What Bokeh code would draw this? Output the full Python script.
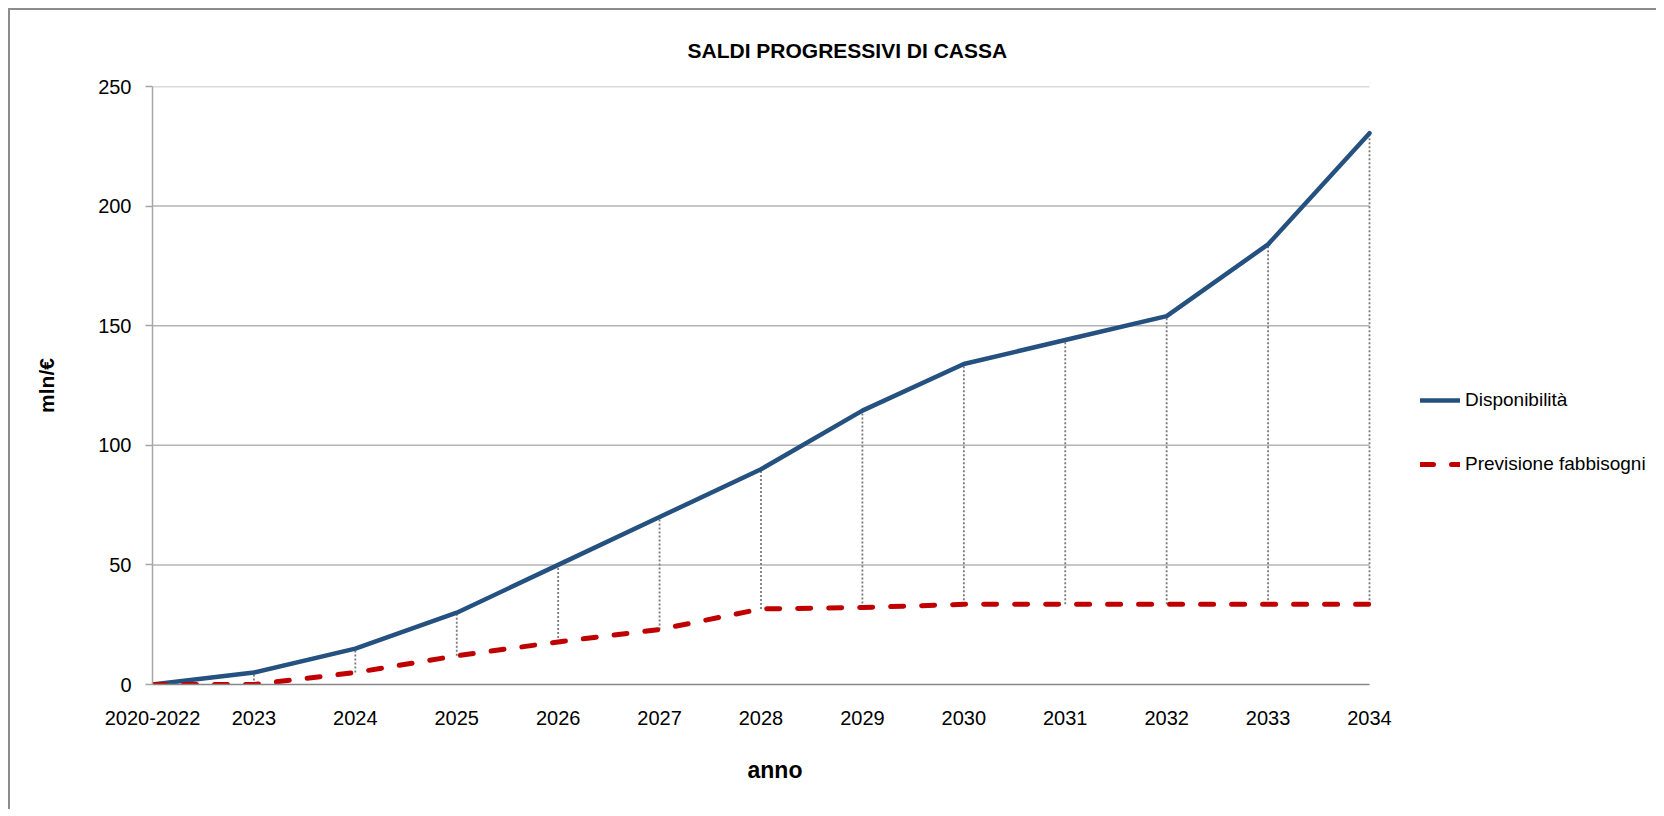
from bokeh.plotting import figure
from bokeh.models import Range1d, FixedTicker, Legend, LegendItem, Title
from bokeh.embed import file_html
from bokeh.resources import INLINE

# ---- data ----
categories = ["2020-2022", "2023", "2024", "2025", "2026", "2027", "2028",
              "2029", "2030", "2031", "2032", "2033", "2034"]
disponibilita = [0, 5, 15, 30, 50, 70, 90, 114.5, 134, 144, 154, 184, 230.5]
previsione_fabbisogni = [0, 0, 5, 12, 17.8, 23, 31.6, 32.2, 33.5, 33.6, 33.6, 33.6, 33.6]
y_ticks = [0, 50, 100, 150, 200, 250]

FONT = "Liberation Sans"
xs = list(range(len(categories)))
n_last = len(categories) - 1

# plot area: category axis occupies PLOT_W px, extra room on the right holds the legend
PLOT_W = 1217
FRAME_W = 1500
x_end = n_last * FRAME_W / PLOT_W

p = figure(frame_width=FRAME_W, frame_height=598, output_backend="svg", toolbar_location=None,
           x_range=Range1d(0, x_end), y_range=Range1d(0, 250),
           min_border_left=142, min_border_right=4, min_border_top=76, min_border_bottom=110,
           title="SALDI PROGRESSIVI DI CASSA",
           styles={"margin-left": "8px", "margin-top": "8px",
                   "border-left": "2px solid #8c8c8c", "border-top": "2px solid #8c8c8c"})

p.outline_line_color = None
p.background_fill_color = "white"
p.border_fill_color = "white"

# title
p.title.text_font = FONT
p.title.text_font_size = "21px"
p.title.text_font_style = "bold"
p.title.text_color = "black"
p.title.align = "left"
p.title.offset = 535
p.title.standoff = 50

# grid (drawn only across the category span)
p.xgrid.grid_line_color = None
p.ygrid.grid_line_color = None
grid_y = y_ticks[1:]
p.segment(x0=[0] * len(grid_y), y0=grid_y, x1=[n_last] * len(grid_y), y1=grid_y,
          line_color="#b4b4b4", line_width=1.5)

# x axis
p.xaxis.ticker = FixedTicker(ticks=xs)
p.xaxis.bounds = (0, n_last)
p.xaxis.major_label_overrides = {i: c for i, c in enumerate(categories)}
p.xaxis.major_tick_out = 0
p.xaxis.major_tick_in = 0
p.xaxis.minor_tick_line_color = None
p.xaxis.axis_line_color = "#868686"
p.xaxis.axis_line_width = 1.5
p.xaxis.major_label_text_font = FONT
p.xaxis.major_label_text_font_size = "20px"
p.xaxis.major_label_text_color = "black"
p.xaxis.major_label_standoff = 26

x_title = Title(text="anno", align="left", offset=595, standoff=54,
                text_font=FONT, text_font_size="23px", text_font_style="bold",
                text_color="black")
p.add_layout(x_title, "below")

# y axis
p.yaxis.ticker = FixedTicker(ticks=y_ticks)
p.yaxis.major_tick_out = 7
p.yaxis.major_tick_in = 0
p.yaxis.major_tick_line_color = "#a6a6a6"
p.yaxis.major_tick_line_width = 1.5
p.yaxis.minor_tick_line_color = None
p.yaxis.axis_line_color = "#a6a6a6"
p.yaxis.axis_line_width = 1.5
p.yaxis.major_label_text_font = FONT
p.yaxis.major_label_text_font_size = "20px"
p.yaxis.major_label_text_color = "black"
p.yaxis.major_label_standoff = 14
p.yaxis.axis_label = "mln/€"
p.yaxis.axis_label_text_font = FONT
p.yaxis.axis_label_text_font_size = "21px"
p.yaxis.axis_label_text_font_style = "bold"
p.yaxis.axis_label_text_color = "black"
p.yaxis.axis_label_standoff = 37

# high-low (drop) lines
p.segment(x0=xs, y0=previsione_fabbisogni, x1=xs, y1=disponibilita,
          line_color="#7a7a7a", line_width=1.8, line_dash="2 2")

r1 = p.line(xs, disponibilita, line_color="#24517f", line_width=4.5,
            line_join="round", line_cap="round")
r2 = p.line(xs, previsione_fabbisogni, line_color="#c00000", line_width=5,
            line_dash="13 18", line_cap="round", line_join="round")

legend = Legend(items=[LegendItem(label="Disponibilità", renderers=[r1]),
                       LegendItem(label="Previsione fabbisogni", renderers=[r2])],
                location=(1268, 209))
legend.label_text_font = FONT
legend.label_text_font_size = "19px"
legend.label_text_color = "black"
legend.glyph_width = 40
legend.glyph_height = 20
legend.label_standoff = 5
legend.spacing = 42
legend.padding = 0
legend.margin = 0
legend.border_line_color = None
legend.background_fill_alpha = 0
p.add_layout(legend)

open("out.html", "w").write(file_html(p, INLINE))
